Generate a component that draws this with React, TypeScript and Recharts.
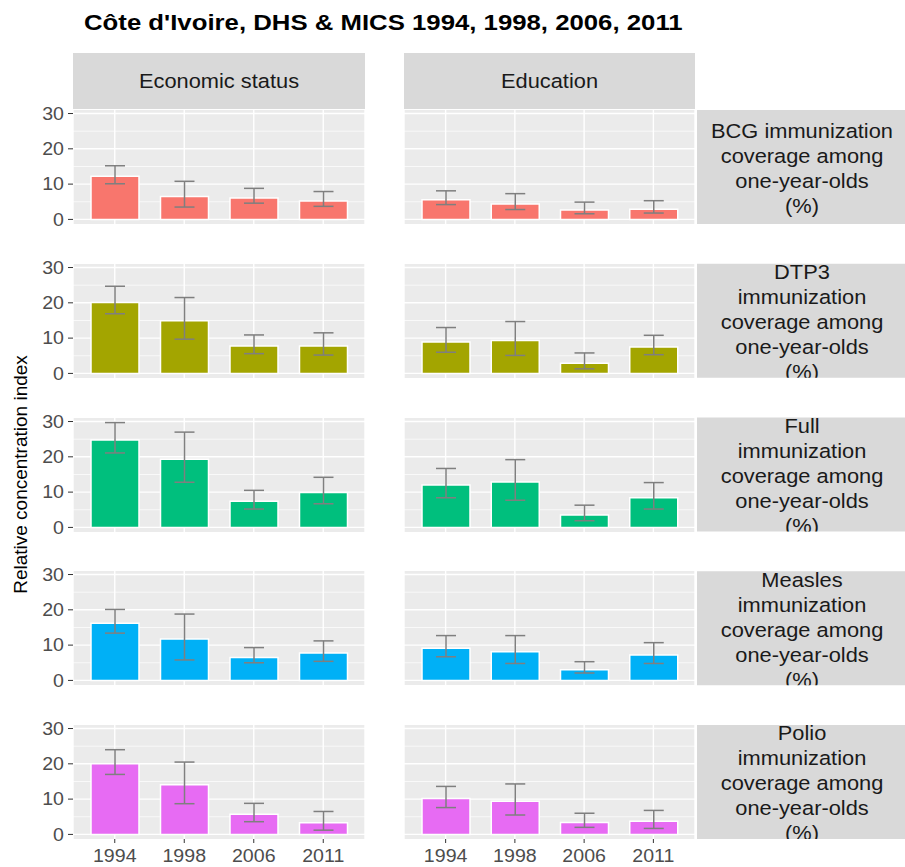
import React from "react"
import {
  BarChart,
  Bar,
  XAxis,
  YAxis,
  CartesianGrid,
  ErrorBar,
} from "recharts"

const FONT = "'Liberation Sans', Arial, sans-serif"
// the reference text looks a bit wide, so horizontal text gets stretched a little
const SX = 1.12

const years = ["1994", "1998", "2006", "2011"]
const groups = ["Economic status", "Education"]
const indicators = [
  ["BCG immunization", "coverage among", "one-year-olds", "(%)"],
  ["DTP3", "immunization", "coverage among", "one-year-olds", "(%)"],
  ["Full", "immunization", "coverage among", "one-year-olds", "(%)"],
  ["Measles", "immunization", "coverage among", "one-year-olds", "(%)"],
  ["Polio", "immunization", "coverage among", "one-year-olds", "(%)"],
]
const colors = ["#F8766D", "#A3A500", "#00BF7D", "#00B0F6", "#E76BF3"]

// value, lower, upper per indicator x group
const bcgEcon = [12.2, 6.5, 6.05, 5.2]
const bcgEconLo = [10.1, 3.5, 4.6, 3.7]
const bcgEconHi = [15.2, 10.8, 8.8, 7.9]
const bcgEdu = [5.6, 4.4, 2.7, 2.9]
const bcgEduLo = [4.2, 2.8, 1.6, 1.8]
const bcgEduHi = [8.1, 7.3, 4.9, 5.3]

const dtp3Econ = [20.1, 14.9, 7.8, 7.8]
const dtp3EconLo = [16.9, 9.7, 5.6, 5.2]
const dtp3EconHi = [24.7, 21.5, 10.9, 11.5]
const dtp3Edu = [8.9, 9.3, 2.85, 7.5]
const dtp3EduLo = [6.0, 5.1, 1.3, 5.3]
const dtp3EduHi = [13.0, 14.7, 5.8, 10.8]

const fullEcon = [24.8, 19.3, 7.4, 9.9]
const fullEconLo = [21.1, 12.8, 5.2, 6.7]
const fullEconHi = [29.7, 27.0, 10.5, 14.2]
const fullEdu = [12.0, 12.9, 3.5, 8.4]
const fullEduLo = [8.4, 7.7, 1.9, 5.2]
const fullEduHi = [16.7, 19.2, 6.3, 12.7]

const measlesEcon = [16.2, 11.7, 6.5, 7.8]
const measlesEconLo = [13.4, 5.8, 5.0, 5.4]
const measlesEconHi = [20.1, 18.8, 9.3, 11.2]
const measlesEdu = [9.1, 8.1, 3.0, 7.2]
const measlesEduLo = [6.7, 4.8, 2.1, 4.8]
const measlesEduHi = [12.7, 12.7, 5.3, 10.7]

const polioEcon = [20.0, 14.1, 5.7, 3.3]
const polioEconLo = [17.0, 8.7, 3.6, 1.2]
const polioEconHi = [24.0, 20.5, 8.8, 6.5]
const polioEdu = [10.2, 9.4, 3.4, 3.7]
const polioEduLo = [7.6, 5.5, 2.0, 1.7]
const polioEduHi = [13.6, 14.3, 6.0, 6.8]

const yTicks = [0, 10, 20, 30]
const yMinor = [5, 15, 25]

const series = [
  [
    [bcgEcon, bcgEconLo, bcgEconHi],
    [bcgEdu, bcgEduLo, bcgEduHi],
  ],
  [
    [dtp3Econ, dtp3EconLo, dtp3EconHi],
    [dtp3Edu, dtp3EduLo, dtp3EduHi],
  ],
  [
    [fullEcon, fullEconLo, fullEconHi],
    [fullEdu, fullEduLo, fullEduHi],
  ],
  [
    [measlesEcon, measlesEconLo, measlesEconHi],
    [measlesEdu, measlesEduLo, measlesEduHi],
  ],
  [
    [polioEcon, polioEconLo, polioEconHi],
    [polioEdu, polioEduLo, polioEduHi],
  ],
]

const buildRows = (v: number[], lo: number[], hi: number[]) =>
  years.map((year, i) => ({
    year,
    value: v[i],
    err: [v[i] - lo[i], hi[i] - v[i]],
  }))

// layout
const PANEL_TOP = 110
const ROW_STEP = 153.75
const PANEL_H = 114
const PAD = 10 // room above/below the plot so tick labels are not clipped
const COL_X = [73, 404]
const COL_W = [292, 291]
const YAXIS_W = 40
const XAXIS_H = 30
const STRIP_X = 697
const STRIP_W = 210
const LINE_H = 25
const TICK_FS = 17.5

const YTick = (p: any) => (
  <g transform={`translate(${p.x},${p.y})`}>
    <text
      transform={`scale(${SX},1)`}
      textAnchor="end"
      dy="0.35em"
      fill="#4D4D4D"
      style={{ fontSize: TICK_FS, fontFamily: FONT }}
    >
      {p.payload.value}
    </text>
  </g>
)

const XTick = (p: any) => (
  <g transform={`translate(${p.x},${p.y})`}>
    <text
      transform={`scale(${SX},1)`}
      textAnchor="middle"
      dy="0.75em"
      fill="#4D4D4D"
      style={{ fontSize: TICK_FS, fontFamily: FONT }}
    >
      {p.payload.value}
    </text>
  </g>
)

const Panel = ({ row, col }: { row: number; col: number }) => {
  const [v, lo, hi] = series[row][col]
  const data = buildRows(v, lo, hi)
  const left = col === 0
  const bottom = row === indicators.length - 1
  const w = COL_W[col] + (left ? YAXIS_W : 0)
  const h = PANEL_H + PAD + (bottom ? XAXIS_H : PAD)
  return (
    <div
      style={{
        position: "absolute",
        left: COL_X[col] - (left ? YAXIS_W : 0),
        top: PANEL_TOP + ROW_STEP * row - PAD,
      }}
    >
      <BarChart
        width={w}
        height={h}
        data={data}
        margin={{ top: PAD, right: 0, bottom: bottom ? 0 : PAD, left: 0 }}
      >
        <CartesianGrid
          fill="#EBEBEB"
          stroke="#FFFFFF"
          strokeWidth={1.4}
          horizontalValues={yTicks}
        />
        <CartesianGrid
          vertical={false}
          stroke="#FFFFFF"
          strokeWidth={0.7}
          horizontalValues={yMinor}
        />
        <XAxis
          dataKey="year"
          type="category"
          padding={{ left: 7, right: 7 }}
          hide={!bottom}
          height={XAXIS_H}
          interval={0}
          axisLine={false}
          tickLine={{ stroke: "#333333" }}
          tickSize={4}
          tickMargin={6}
          tick={<XTick />}
        />
        <YAxis
          type="number"
          domain={[-1.3, 31]}
          ticks={yTicks}
          interval={0}
          hide={!left}
          width={YAXIS_W}
          axisLine={false}
          tickLine={{ stroke: "#333333" }}
          tickSize={5}
          tickMargin={4}
          tick={<YTick />}
        />
        <Bar
          dataKey="value"
          fill={colors[row]}
          stroke="#FFFFFF"
          strokeWidth={1.5}
          barSize={48}
          isAnimationActive={false}
        >
          <ErrorBar
            dataKey="err"
            width={10}
            stroke="#7F7F7F"
            strokeWidth={1.5}
          />
        </Bar>
      </BarChart>
    </div>
  )
}

export default function App() {
  const panelMid =
    (PANEL_TOP + PANEL_TOP + ROW_STEP * (indicators.length - 1) + PANEL_H) / 2
  return (
    <div
      style={{
        position: "absolute",
        left: 0,
        top: 0,
        width: 905,
        height: 867,
        background: "#FFFFFF",
        overflow: "hidden",
        fontFamily: FONT,
      }}
    >
      <svg
        width={905}
        height={867}
        style={{ position: "absolute", left: 0, top: 0 }}
      >
        <defs>
          {indicators.map((_, r) => (
            <clipPath id={`strip${r}`} key={r}>
              <rect
                x={STRIP_X}
                y={PANEL_TOP + ROW_STEP * r}
                width={STRIP_W}
                height={PANEL_H}
              />
            </clipPath>
          ))}
        </defs>
        <text
          transform={`translate(84,30) scale(${SX},1)`}
          fontSize={23}
          fontWeight="bold"
          fill="#000000"
          fontFamily={FONT}
        >
          Côte d'Ivoire, DHS &amp; MICS 1994, 1998, 2006, 2011
        </text>
        {groups.map((g, c) => (
          <g key={g}>
            <rect x={COL_X[c]} y={53} width={COL_W[c]} height={56} fill="#D9D9D9" />
            <text
              transform={`translate(${COL_X[c] + COL_W[c] / 2},81) scale(${SX},1)`}
              textAnchor="middle"
              dy="0.35em"
              fontSize={19.5}
              fill="#1A1A1A"
              fontFamily={FONT}
            >
              {g}
            </text>
          </g>
        ))}
        {indicators.map((lines, r) => {
          const top = PANEL_TOP + ROW_STEP * r
          const mid = top + PANEL_H / 2 + 1.5
          const first = mid - ((lines.length - 1) * LINE_H) / 2
          return (
            <g key={r}>
              <rect x={STRIP_X} y={top} width={STRIP_W} height={PANEL_H} fill="#D9D9D9" />
              <g clipPath={`url(#strip${r})`}>
                {lines.map((t, i) => (
                  <text
                    key={i}
                    transform={`translate(${STRIP_X + STRIP_W / 2},${first + i * LINE_H}) scale(${SX},1)`}
                    textAnchor="middle"
                    dy="0.35em"
                    fontSize={19.5}
                    fill="#1A1A1A"
                    fontFamily={FONT}
                  >
                    {t}
                  </text>
                ))}
              </g>
            </g>
          )
        })}
        <text
          transform={`translate(20,${panelMid}) rotate(-90)`}
          textAnchor="middle"
          dy="0.35em"
          fontSize={19}
          fill="#000000"
          fontFamily={FONT}
        >
          Relative concentration index
        </text>
      </svg>
      {indicators.map((_, r) =>
        groups.map((_g, c) => <Panel key={`${r}-${c}`} row={r} col={c} />)
      )}
    </div>
  )
}
